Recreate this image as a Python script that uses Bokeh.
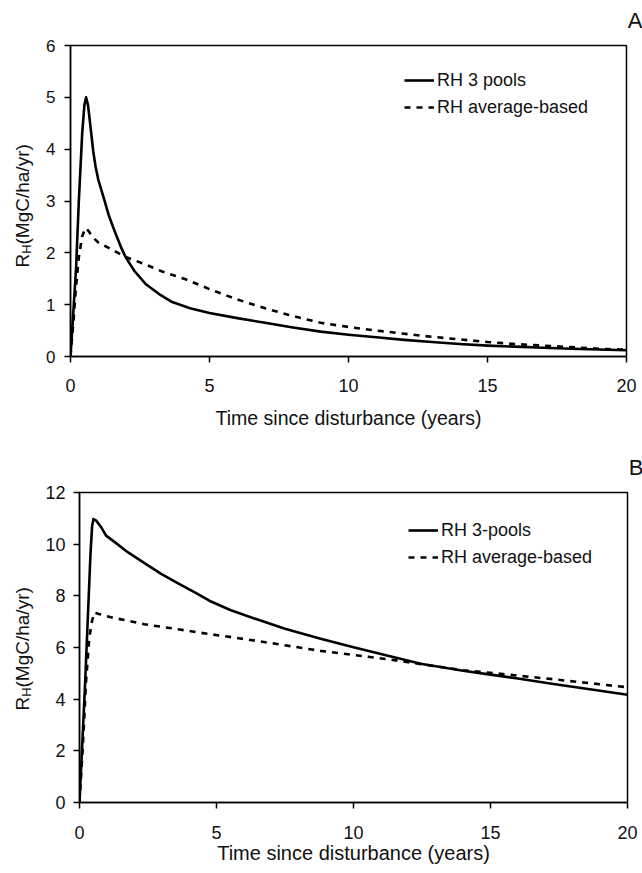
import math
from bokeh.plotting import figure
from bokeh.models import Range1d, FixedTicker, Legend, LegendItem, Label, Title
from bokeh.layouts import column, row
from bokeh.embed import file_html
from bokeh.resources import INLINE

# ---------------- data ----------------
# Panel A
tA_pools = [0, 0.06, 0.2, 0.3, 0.42, 0.5, 0.56, 0.63, 0.72, 0.82, 0.9, 1.0, 1.2, 1.38, 1.6, 1.8,
            1.98, 2.3, 2.7, 3.2, 3.66, 4.3, 5, 6, 7, 8, 9, 10, 11, 12, 13, 14, 15, 16, 17, 18, 19, 20]
rhA_pools = [0, 0.5, 1.7, 3.0, 4.3, 4.85, 5.0, 4.85, 4.43, 3.95, 3.67, 3.41, 3.05, 2.72, 2.4, 2.13,
             1.92, 1.65, 1.4, 1.2, 1.05, 0.93, 0.84, 0.74, 0.65, 0.56, 0.48, 0.42, 0.37, 0.32, 0.28,
             0.24, 0.21, 0.19, 0.17, 0.15, 0.135, 0.12]
tA_avg = [0, 0.12, 0.18, 0.3, 0.42, 0.54, 0.65, 0.8, 0.9, 1.0, 1.5, 1.98, 2.58, 3.3, 4.14, 5, 6, 7,
          8, 9, 10, 11, 12, 13, 14, 15, 16, 17, 18, 19, 20]
rhA_avg = [0, 0.77, 1.22, 1.92, 2.32, 2.48, 2.42, 2.3, 2.25, 2.2, 2.06, 1.92, 1.8, 1.64, 1.49, 1.3,
           1.1, 0.93, 0.78, 0.65, 0.57, 0.5, 0.44, 0.38, 0.33, 0.28, 0.24, 0.21, 0.18, 0.15, 0.13]

# Panel B
tB_pools = [0, 0.2, 0.4, 0.46, 0.51, 0.6, 0.79, 0.97, 1.3, 1.76, 2.4, 2.98, 3.6, 4.19, 4.74, 5.5,
            6.5, 7.5, 8.8, 10, 11, 12.45, 14, 15, 16, 17.3, 18.5, 20]
rhB_pools = [0, 4.5, 9.6, 10.7, 10.97, 10.92, 10.66, 10.33, 10.07, 9.69, 9.25, 8.85, 8.48, 8.14,
             7.81, 7.45, 7.08, 6.73, 6.34, 6.01, 5.75, 5.37, 5.1, 4.95, 4.8, 4.59, 4.4, 4.17]
tB_avg = [0, 0.12, 0.24, 0.36, 0.46, 0.55, 0.7, 1.15, 2.37, 3.58, 4.74, 6, 7, 8.8, 11.23, 14, 15,
          17.3, 20]
rhB_avg = [0, 2.13, 4.71, 6.4, 7.04, 7.36, 7.3, 7.17, 6.9, 6.71, 6.52, 6.33, 6.17, 5.87, 5.55,
           5.12, 5.02, 4.77, 4.46]

x_ticks = [0, 5, 10, 15, 20]
yA_ticks = [0, 1, 2, 3, 4, 5, 6]
yB_ticks = [0, 2, 4, 6, 8, 10, 12]

legendA = ["RH 3 pools", "RH average-based"]
legendB = ["RH 3-pools", "RH average-based"]
x_title = "Time since disturbance (years)"
ylabA = ["R", "H", " (MgC/ha/yr)"]
ylabB = ["R", "H", "(MgC/ha/yr)"]

FONT = "Liberation Sans"
INK = "#111111"


def no_align(fig):
    if "frame_align" in fig.properties():
        fig.frame_align = False


def label_strip(width, height, parts, base_x, start_y):
    """A narrow, axis-less figure that carries the rotated y-axis title."""
    f = figure(width=width, height=height, x_range=Range1d(0, width), y_range=Range1d(height, 0),
               min_border_left=0, min_border_right=0, min_border_top=0, min_border_bottom=0,
               x_axis_type=None, y_axis_type=None, output_backend="svg", toolbar_location=None)
    f.outline_line_color = None
    f.xgrid.visible = False
    f.ygrid.visible = False
    f.background_fill_color = "white"
    f.border_fill_color = "white"
    no_align(f)
    common = dict(angle=math.pi / 2, text_align="left", text_baseline="alphabetic",
                  text_font=FONT, text_color=INK)
    f.add_layout(Label(x=base_x, y=start_y, text=parts[0], text_font_size="19px", **common))
    f.add_layout(Label(x=base_x + 3.5, y=start_y - 13.7, text=parts[1], text_font_size="13px",
                       **common))
    f.add_layout(Label(x=base_x, y=start_y - 23.0, text=parts[2], text_font_size="19px", **common))
    return f


def panel(t1, y1, t2, y2, ymax, yticks, labels, letter, bt, bb, fw, fh,
          xtick_fs, ytick_fs, xtick_standoff, ytick_standoff, title_fs, title_standoff, leg_loc,
          letter_lift):
    p = figure(frame_width=fw, frame_height=fh, min_border_left=36, min_border_right=16,
               min_border_top=bt, min_border_bottom=bb, output_backend="svg",
               toolbar_location=None, x_range=Range1d(0, 20), y_range=Range1d(0, ymax))
    no_align(p)
    p.background_fill_color = "white"
    p.border_fill_color = "white"
    p.xgrid.visible = False
    p.ygrid.visible = False
    p.outline_line_color = "black"
    p.outline_line_width = 1.5
    p.outline_line_alpha = 1.0

    for ax in (p.xaxis[0], p.yaxis[0]):
        ax.axis_line_color = "black"
        ax.axis_line_width = 1.5
        ax.major_tick_line_color = "black"
        ax.major_tick_line_width = 1.5
        ax.major_tick_in = 0
        ax.major_tick_out = 6
        ax.minor_tick_line_color = None
        ax.major_label_text_font = FONT
        ax.major_label_text_color = INK
    p.xaxis.major_label_text_font_size = f"{xtick_fs}px"
    p.yaxis.major_label_text_font_size = f"{ytick_fs}px"
    p.xaxis.ticker = FixedTicker(ticks=x_ticks)
    p.yaxis.ticker = FixedTicker(ticks=yticks)
    p.xaxis.major_label_standoff = xtick_standoff
    p.yaxis.major_label_standoff = ytick_standoff
    p.xaxis.axis_label = x_title
    p.xaxis.axis_label_text_font = FONT
    p.xaxis.axis_label_text_font_size = f"{title_fs}px"
    p.xaxis.axis_label_text_font_style = "normal"
    p.xaxis.axis_label_text_color = INK
    p.xaxis.axis_label_standoff = title_standoff

    r1 = p.line(t1, y1, line_color="black", line_width=2.6, line_join="round")
    r2 = p.line(t2, y2, line_color="black", line_width=2.6, line_dash="6 6")

    leg = Legend(items=[LegendItem(label=labels[0], renderers=[r1]),
                        LegendItem(label=labels[1], renderers=[r2])],
                 location=leg_loc, border_line_alpha=0, background_fill_alpha=0,
                 padding=0, margin=0, spacing=5, glyph_width=30, glyph_height=22,
                 label_height=22, label_standoff=3, label_text_font=FONT,
                 label_text_font_size="18px", label_text_color=INK)
    p.add_layout(leg, "center")

    # white spacer title first (nearest the frame), then the panel letter above it
    p.add_layout(Title(text=".", text_font_size="6px", standoff=letter_lift,
                       text_color="white"), "above")
    p.add_layout(Title(text=letter, align="right", offset=-16, standoff=0,
                       text_font=FONT, text_font_size="22px", text_font_style="normal",
                       text_color=INK), "above")
    return p


# Panel A: frame x 68..624, y 45..356 ; Panel B: frame x 78..626, y 492..802
pA = panel(tA_pools, rhA_pools, tA_avg, rhA_avg, 6, yA_ticks, legendA, "A",
           bt=45, bb=80, fw=556, fh=311, xtick_fs=18, ytick_fs=17, xtick_standoff=16,
           ytick_standoff=9, title_fs=19.5, title_standoff=12, leg_loc=(334, 238),
           letter_lift=7)
pB = panel(tB_pools, rhB_pools, tB_avg, rhB_avg, 12, yB_ticks, legendB, "B",
           bt=56, bb=71, fw=548, fh=310, xtick_fs=18, ytick_fs=18, xtick_standoff=17,
           ytick_standoff=8, title_fs=20, title_standoff=0, leg_loc=(329, 234),
           letter_lift=7)

auxA = label_strip(34, 436, ylabA, base_x=22, start_y=267)
auxB = label_strip(42, 437, ylabB, base_x=22, start_y=710 - 436)

layout = column(row(auxA, pA, spacing=0), row(auxB, pB, spacing=0), spacing=0)
open("out.html", "w").write(file_html(layout, INLINE))
